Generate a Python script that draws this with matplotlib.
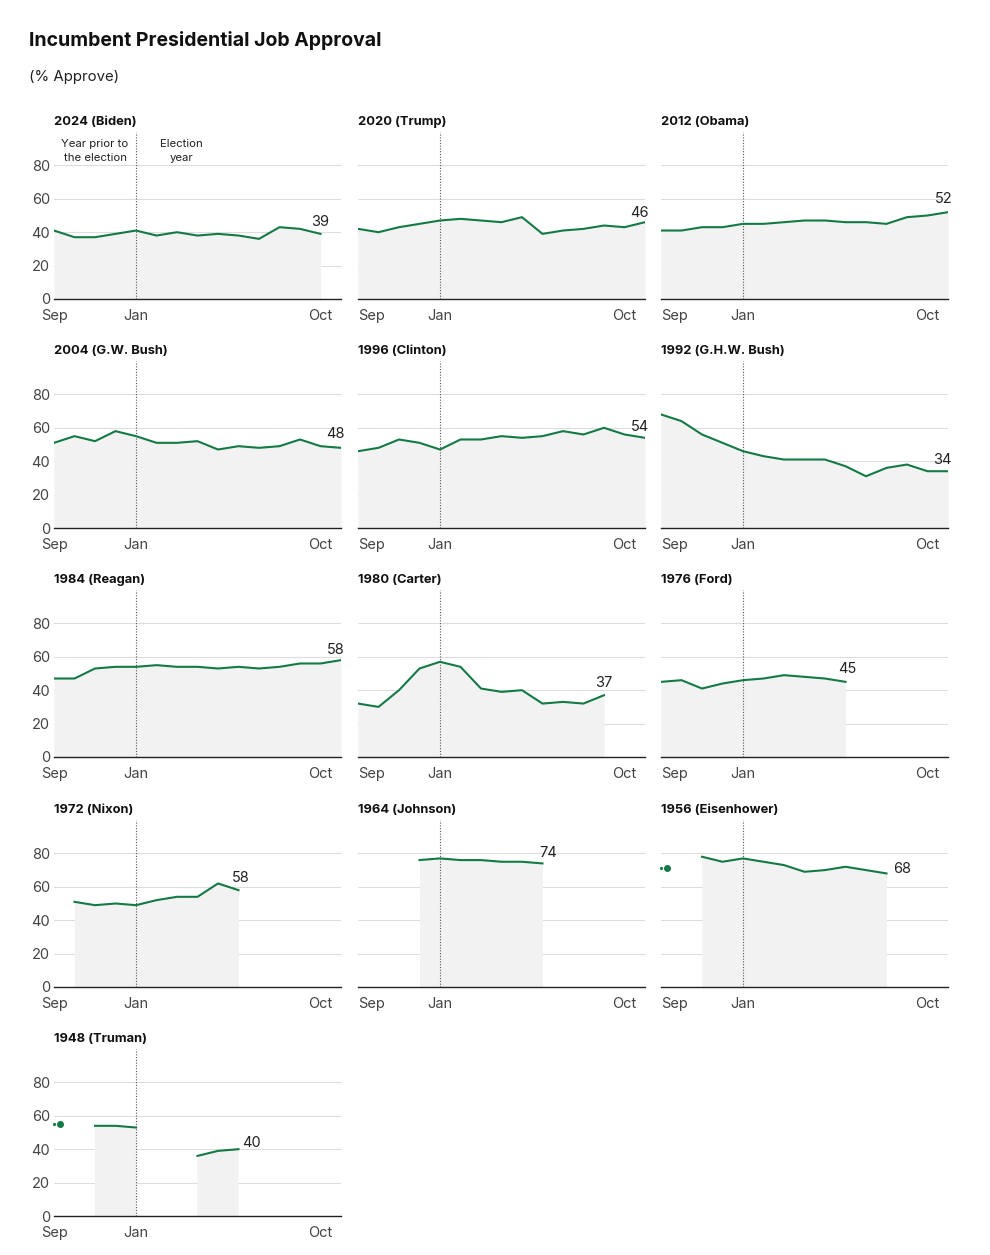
import numpy as np
import matplotlib
matplotlib.use("Agg")
import matplotlib.pyplot as plt

# ── style ─────────────────────────────────────────────────────────────────────
plt.rcParams.update({
    "font.family": ["Inter", "DejaVu Sans"],
    "font.size": 10,
})
GREEN = "#137a45"
FILL = "#f2f2f2"
GRID = "#dddddd"
TICK = "#444444"

W, H = 990, 1255
nan = np.nan

# ── data (month index: 0 = Sep of prior year, 4 = Jan, 13 = Oct) ─────────────
TITLES = ["2024 (Biden)", "2020 (Trump)", "2012 (Obama)",
          "2004 (G.W. Bush)", "1996 (Clinton)", "1992 (G.H.W. Bush)",
          "1984 (Reagan)", "1980 (Carter)", "1976 (Ford)",
          "1972 (Nixon)", "1964 (Johnson)", "1956 (Eisenhower)",
          "1948 (Truman)"]

biden = [41, 37, 37, 39, 41, 38, 40, 38, 39, 38, 36, 43, 42, 39]
trump = [42, 40, 43, 45, 47, 48, 47, 46, 49, 39, 41, 42, 44, 43, 46]
obama = [41, 41, 43, 43, 45, 45, 46, 47, 47, 46, 46, 45, 49, 50, 52]
gwbush = [51, 55, 52, 58, 55, 51, 51, 52, 47, 49, 48, 49, 53, 49, 48]
clinton = [46, 48, 53, 51, 47, 53, 53, 55, 54, 55, 58, 56, 60, 56, 54]
ghwbush = [68, 64, 56, 51, 46, 43, 41, 41, 41, 37, 31, 36, 38, 34, 34]
reagan = [47, 47, 53, 54, 54, 55, 54, 54, 53, 54, 53, 54, 56, 56, 58]
carter = [32, 30, 40, 53, 57, 54, 41, 39, 40, 32, 33, 32, 37]
ford = [45, 46, 41, 44, 46, 47, 49, 48, 47, 45]
nixon = [nan, 51, 49, 50, 49, 52, 54, 54, 62, 58]
johnson = [nan, nan, nan, 76, 77, 76, 76, 75, 75, 74]
eisenhower = [nan, nan, 78, 75, 77, 75, 73, 69, 70, 72, 70, 68]
truman = [nan, nan, 54, 54, 53, nan, nan, 36, 39, 40]

# isolated early readings drawn as dots (x in months, value)
eisenhower_dot_x, eisenhower_dot_y = 0.3, 71
truman_dot_x, truman_dot_y = 0.3, 55

SERIES = [biden, trump, obama, gwbush, clinton, ghwbush, reagan, carter,
          ford, nixon, johnson, eisenhower, truman]
DOTS = {11: (eisenhower_dot_x, eisenhower_dot_y),
        12: (truman_dot_x, truman_dot_y)}

X_TICKS = [0, 4, 13]
X_LABELS = ["Sep", "Jan", "Oct"]
Y_TICKS = [0, 20, 40, 60, 80]

# label placement for the last value: (dx px, dy px, ha)
LABEL_OFFSETS = [(0, 12, "center"), (4, 9, "right"), (4, 13, "right"),
                 (4, 14, "right"), (4, 11, "right"), (4, 11, "right"),
                 (4, 10, "right"), (0, 12, "center"), (2, 13, "center"),
                 (2, 12, "center"), (6, 10, "center"), (7, 4, "left"),
                 (4, 6, "left")]

# ── layout (pixels) ───────────────────────────────────────────────────────────
COL_LEFT = [54, 358, 661]
ROW_BASE = [299, 528, 757, 987, 1216]
AX_W, AX_H = 287, 167

fig = plt.figure(figsize=(W / 100, H / 100), dpi=100)
fig.text(29 / W, 1 - 40 / H, "Incumbent Presidential Job Approval",
         fontsize=14, fontweight="bold", color="#111111", va="center")
fig.text(29 / W, 1 - 77 / H, "(% Approve)", fontsize=10.8,
         color="#222222", va="center")

for i, (title, vals) in enumerate(zip(TITLES, SERIES)):
    r, c = divmod(i, 3)
    ax = fig.add_axes([COL_LEFT[c] / W, 1 - ROW_BASE[r] / H, AX_W / W, AX_H / H])
    y = np.array(vals, dtype=float)
    x = np.arange(len(y))

    ax.fill_between(x, 0, y, where=~np.isnan(y), color=FILL, linewidth=0,
                    zorder=1)
    ax.plot(x, y, color=GREEN, linewidth=1.5, zorder=4,
            solid_joinstyle="round")
    if i in DOTS:
        dx, dy = DOTS[i]
        ax.plot([dx], [dy], "o", color=GREEN, markersize=4, zorder=4)
        ax.plot([0], [dy], "o", color=GREEN, markersize=1.3, zorder=4,
                clip_on=False)

    # last value label
    last = np.where(~np.isnan(y))[0][-1]
    ox, oy, ha = LABEL_OFFSETS[i]
    ax.annotate(f"{int(y[last])}", (x[last], y[last]), xytext=(ox, oy),
                textcoords="offset pixels", ha=ha, va="center",
                fontsize=10.5, color="#222222", zorder=5)

    for g in Y_TICKS[1:]:
        ax.axhline(g, color=GRID, linewidth=0.8, zorder=0)
    ax.axvline(4, color="#555555", linewidth=0.8, linestyle=(0, (1, 1.5)),
               zorder=3)

    ax.set_xlim(0, 14)
    ax.set_ylim(0, 100)
    ax.set_xticks(X_TICKS)
    ax.set_xticklabels(X_LABELS)
    ax.set_yticks(Y_TICKS)
    if c != 0:
        ax.set_yticklabels([])
        ax.get_xticklabels()[0].set_ha("left")
    ax.tick_params(length=0, labelsize=10.5, labelcolor=TICK, pad=3)
    ax.tick_params(axis="x", pad=7)
    for s in ["top", "right", "left"]:
        ax.spines[s].set_visible(False)
    ax.spines["bottom"].set_color("#222222")
    ax.spines["bottom"].set_linewidth(1.0)
    ax.set_facecolor("none")
    ax.set_title(title, loc="left", fontsize=9.3, fontweight="bold",
                 color="#111111", pad=5)

    if i == 0:
        ax.text(2, 88.5, "Year prior to\nthe election", ha="center",
                va="center", fontsize=8.2, color="#222222", linespacing=1.55)
        ax.text(6.2, 88.5, "Election\nyear", ha="center", va="center",
                fontsize=8.2, color="#222222", linespacing=1.55)

fig.savefig("out.png", dpi=100)
